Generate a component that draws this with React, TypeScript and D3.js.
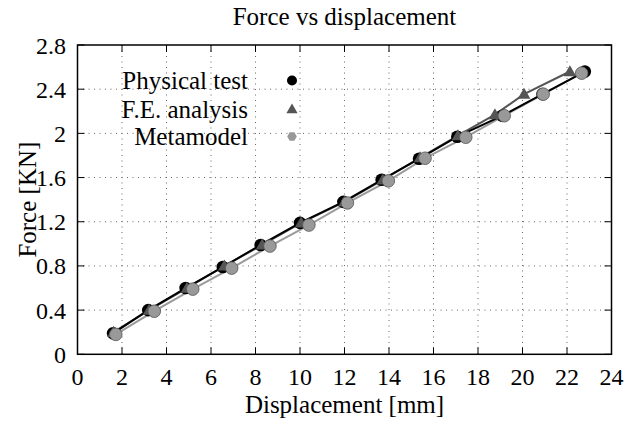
import React from "react";
import * as d3 from "d3";

const physX = [1.6, 3.18, 4.86, 6.53, 8.23, 10.0, 11.95, 13.67, 15.35, 17.07, 19.1, 20.9, 22.8];
const physY = [0.19, 0.4, 0.6, 0.79, 0.99, 1.19, 1.38, 1.58, 1.77, 1.97, 2.16, 2.355, 2.56];
const feX = [1.62, 3.22, 4.92, 6.6, 8.3, 10.05, 12.0, 13.72, 15.4, 17.1, 18.76, 20.07, 22.13];
const feY = [0.2, 0.4, 0.6, 0.8, 0.99, 1.19, 1.38, 1.58, 1.78, 1.98, 2.17, 2.355, 2.56];
const metaX = [1.72, 3.45, 5.18, 6.93, 8.65, 10.4, 12.13, 13.97, 15.62, 17.45, 19.18, 20.93, 22.66];
const metaY = [0.18, 0.39, 0.59, 0.78, 0.98, 1.17, 1.37, 1.57, 1.775, 1.965, 2.16, 2.355, 2.545];
const xTicks = [0, 2, 4, 6, 8, 10, 12, 14, 16, 18, 20, 22, 24];
const yTicks = [0, 0.4, 0.8, 1.2, 1.6, 2, 2.4, 2.8];
const seriesNames = ["Physical test", "F.E. analysis", "Metamodel"];

const W = 629, H = 423;
const L = 77.5, R = 611.5, T = 45, B = 354.3;
const FONT = "'Liberation Serif', 'Times New Roman', serif";

export default function App() {
  const x = d3.scaleLinear().domain([0, 24]).range([L, R]);
  const y = d3.scaleLinear().domain([0, 2.8]).range([B, T]);
  const line = d3.line<[number, number]>().x(d => x(d[0])).y(d => y(d[1]));
  const phys = physX.map((v, i) => [v, physY[i]] as [number, number]);
  const fe = feX.map((v, i) => [v, feY[i]] as [number, number]);
  const meta = metaX.map((v, i) => [v, metaY[i]] as [number, number]);
  const tri = d3.symbol().type(d3.symbolTriangle).size(70)()!;
  const triLeg = d3.symbol().type(d3.symbolTriangle).size(55)()!;
  const hex = (cx: number, cy: number, r: number) => {
    const pts: string[] = [];
    for (let k = 0; k < 6; k++) {
      const a = (Math.PI / 3) * k;
      pts.push(`${cx + r * Math.cos(a)},${cy + r * Math.sin(a)}`);
    }
    return pts.join(" ");
  };
  const legY = [80.5, 109, 136.5];
  return (
    <svg width={W} height={H} style={{ position: "absolute", left: 0, top: 0, background: "#fff" }} fontFamily={FONT}>
      <rect x={0} y={0} width={W} height={H} fill="#fff" />
      {/* grid */}
      {xTicks.slice(1, -1).map(t => (
        <line key={"gx" + t} x1={x(t)} x2={x(t)} y1={T} y2={B} stroke="#666" strokeWidth={1} strokeDasharray="1,4.5" />
      ))}
      {yTicks.slice(1, -1).map(t => (
        <line key={"gy" + t} x1={L} x2={R} y1={y(t)} y2={y(t)} stroke="#666" strokeWidth={1} strokeDasharray="1,4.5" />
      ))}
      {/* ticks */}
      {xTicks.map(t => (
        <g key={"tx" + t}>
          <line x1={x(t)} x2={x(t)} y1={B} y2={B - 7} stroke="#000" strokeWidth={1} />
          <line x1={x(t)} x2={x(t)} y1={T} y2={T + 7} stroke="#000" strokeWidth={1} />
          <text x={x(t)} y={385} fontSize={24} textAnchor="middle" fill="#000">{t}</text>
        </g>
      ))}
      {yTicks.map(t => (
        <g key={"ty" + t}>
          <line x1={L} x2={L + 7} y1={y(t)} y2={y(t)} stroke="#000" strokeWidth={1} />
          <line x1={R} x2={R - 7} y1={y(t)} y2={y(t)} stroke="#000" strokeWidth={1} />
          <text x={66} y={y(t) + 8.5} fontSize={24} textAnchor="end" fill="#000">{String(t)}</text>
        </g>
      ))}
      {/* lines */}
      <path d={line(meta)!} fill="none" stroke="#9a9a9a" strokeWidth={2} />
      <path d={line(fe)!} fill="none" stroke="#555" strokeWidth={2} />
      <path d={line(phys)!} fill="none" stroke="#000" strokeWidth={2} />
      {/* markers */}
      {phys.map((d, i) => (
        <circle key={"p" + i} cx={x(d[0])} cy={y(d[1])} r={6.3} fill="#000" />
      ))}
      {fe.map((d, i) => (
        <path key={"f" + i} d={tri} transform={`translate(${x(d[0])},${y(d[1]) + 1})`} fill="#555" />
      ))}
      {meta.map((d, i) => (
        <circle key={"m" + i} cx={x(d[0])} cy={y(d[1])} r={6.3} fill="#999" stroke="#555" strokeWidth={0.8} />
      ))}
      {/* frame */}
      <rect x={L} y={T} width={R - L} height={B - T} fill="none" stroke="#000" strokeWidth={1.5} />
      {/* legend */}
      {seriesNames.map((n, i) => (
        <text key={n} x={248} y={legY[i] + 8.5} fontSize={25} textAnchor="end" fill="#000">{n}</text>
      ))}
      <circle cx={292} cy={legY[0]} r={5} fill="#000" />
      <path d={triLeg} transform={`translate(292,${legY[1] + 1})`} fill="#555" />
      <polygon points={hex(292, legY[2], 4.8)} fill="#999" />
      {/* titles */}
      <text x={(L + R) / 2} y={25} fontSize={25} textAnchor="middle" fill="#000">Force vs displacement</text>
      <text x={(L + R) / 2} y={413} fontSize={25} textAnchor="middle" fill="#000">Displacement [mm]</text>
      <text transform={`translate(36,${(T + B) / 2}) rotate(-90)`} fontSize={25} textAnchor="middle" fill="#000">Force [KN]</text>
    </svg>
  );
}
